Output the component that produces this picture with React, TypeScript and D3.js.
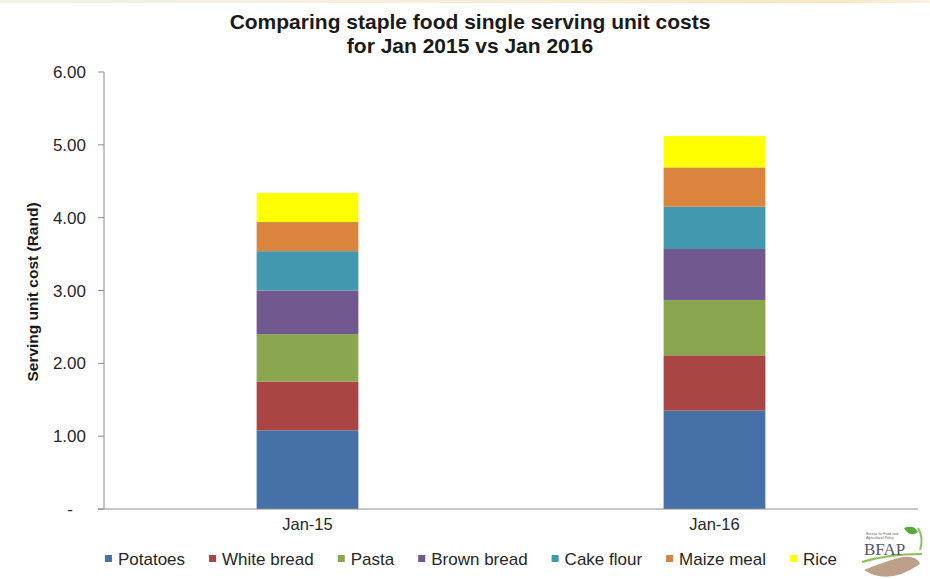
import React, { useEffect, useRef } from "react";
import * as d3 from "d3";

const categories = ["Jan-15", "Jan-16"];
const seriesNames = ["Potatoes", "White bread", "Pasta", "Brown bread", "Cake flour", "Maize meal", "Rice"];
const potatoes = [1.08, 1.35];
const whiteBread = [0.67, 0.76];
const pasta = [0.65, 0.76];
const brownBread = [0.6, 0.7];
const cakeFlour = [0.54, 0.58];
const maizeMeal = [0.4, 0.54];
const rice = [0.4, 0.43];
const seriesValues = [potatoes, whiteBread, pasta, brownBread, cakeFlour, maizeMeal, rice];
const seriesColors = ["#4571A8", "#A94643", "#8AA64E", "#71588F", "#4299AF", "#DB843D", "#FFFF00"];
const yTicks = [0, 1, 2, 3, 4, 5, 6];
const yTickLabels = ["-", "1.00", "2.00", "3.00", "4.00", "5.00", "6.00"];
const titleLines = ["Comparing staple food single serving unit costs", "for Jan 2015 vs Jan 2016"];
const yAxisTitle = "Serving unit cost (Rand)";

const W = 930;
const H = 579;
const FONT = "'Liberation Sans', Arial, Helvetica, sans-serif";

export default function App() {
  const ref = useRef<SVGSVGElement | null>(null);

  useEffect(() => {
    const svg = d3.select(ref.current);
    svg.selectAll("*").remove();

    const x = d3.scaleBand<string>().domain(categories).range([104, 918]).paddingInner(0.75).paddingOuter(0.375);
    const y = d3.scaleLinear().domain([0, 6]).range([509, 72]);

    // background
    svg.append("rect").attr("width", W).attr("height", H).attr("fill", "#ffffff");
    const defs = svg.append("defs");
    const grad = defs.append("linearGradient").attr("id", "topg").attr("x1", "0").attr("x2", "1");
    grad.append("stop").attr("offset", "0").attr("stop-color", "#f4f1ea");
    grad.append("stop").attr("offset", "0.5").attr("stop-color", "#f6eed8");
    grad.append("stop").attr("offset", "0.9").attr("stop-color", "#f9e6c2");
    grad.append("stop").attr("offset", "1").attr("stop-color", "#fbf2e3");
    svg.append("rect").attr("x", 0).attr("y", 0).attr("width", W).attr("height", 3).attr("fill", "url(#topg)");

    // title
    svg.append("text")
      .attr("x", 470).attr("y", 29)
      .attr("text-anchor", "middle")
      .attr("font-family", FONT).attr("font-weight", "bold").attr("font-size", 21)
      .attr("fill", "#1a1a1a")
      .selectAll("tspan").data(titleLines).join("tspan")
      .attr("x", 470).attr("dy", (_d, i) => (i === 0 ? 0 : 24))
      .text((d) => d);

    // stacked data
    const table = categories.map((c, i) => {
      const row: Record<string, any> = { cat: c };
      seriesNames.forEach((s, j) => (row[s] = seriesValues[j][i]));
      return row;
    });
    const stacked = d3.stack<any>().keys(seriesNames)(table);

    const g = svg.append("g");
    stacked.forEach((layer, j) => {
      g.selectAll(null).data(layer).join("rect")
        .attr("x", (d: any) => x(d.data.cat)!)
        .attr("width", x.bandwidth())
        .attr("y", (d: any) => y(d[1]))
        .attr("height", (d: any) => y(d[0]) - y(d[1]))
        .attr("fill", seriesColors[j]);
    });

    // axes
    const axisColor = "#8c8c8c";
    svg.append("line").attr("x1", 104).attr("x2", 104).attr("y1", y(6)).attr("y2", y(0))
      .attr("stroke", axisColor).attr("stroke-width", 1);
    svg.append("line").attr("x1", 98).attr("x2", 918).attr("y1", y(0)).attr("y2", y(0))
      .attr("stroke", axisColor).attr("stroke-width", 1);
    yTicks.forEach((t, i) => {
      svg.append("line").attr("x1", 98).attr("x2", 104).attr("y1", y(t)).attr("y2", y(t))
        .attr("stroke", axisColor).attr("stroke-width", 1);
      const lbl = yTickLabels[i];
      svg.append("text")
        .attr("x", lbl === "-" ? 73 : 86)
        .attr("y", y(t) + 6)
        .attr("text-anchor", "end")
        .attr("font-family", FONT).attr("font-size", 17).attr("fill", "#262626")
        .text(lbl);
    });

    // category labels
    categories.forEach((c) => {
      svg.append("text")
        .attr("x", x(c)! + x.bandwidth() / 2).attr("y", 530)
        .attr("text-anchor", "middle")
        .attr("font-family", FONT).attr("font-size", 16.5).attr("fill", "#262626")
        .text(c);
    });

    // y axis title
    svg.append("text")
      .attr("transform", "translate(38,292) rotate(-90)")
      .attr("text-anchor", "middle")
      .attr("font-family", FONT).attr("font-weight", "bold").attr("font-size", 15.5).attr("fill", "#1a1a1a")
      .text(yAxisTitle);

    // legend
    const lg = svg.append("g");
    let cursor = 0;
    const gap = 24;
    seriesNames.forEach((s, j) => {
      const it = lg.append("g");
      it.append("rect").attr("x", cursor).attr("y", 555).attr("width", 7).attr("height", 7).attr("fill", seriesColors[j]);
      const t = it.append("text").attr("x", cursor + 13).attr("y", 564.5)
        .attr("font-family", FONT).attr("font-size", 17).attr("fill", "#262626").text(s);
      const w = (t.node() as SVGTextElement).getComputedTextLength();
      cursor += 13 + w + gap;
    });
    const total = cursor - gap;
    lg.attr("transform", `translate(${471 - total / 2},0)`);

    // logo (approximation)
    const logo = svg.append("g").attr("transform", "translate(858,524)");
    logo.append("path").attr("d", "M6,46 Q30,62 62,40 Q58,30 40,34 Q20,40 6,46 Z").attr("fill", "#b08d74").attr("opacity", 0.85);
    logo.append("path").attr("d", "M4,38 Q30,30 64,30").attr("stroke", "#8dbf5a").attr("stroke-width", 2).attr("fill", "none");
    logo.append("path").attr("d", "M60,4 Q66,14 62,26").attr("stroke", "#8dbf5a").attr("stroke-width", 2).attr("fill", "none");
    logo.append("path").attr("d", "M46,4 Q56,0 60,8 Q52,14 46,4 Z").attr("fill", "#5aa83c");
    logo.append("text").attr("x", 8).attr("y", 11).attr("font-family", FONT).attr("font-size", 3.5).attr("fill", "#666")
      .text("Bureau for Food and");
    logo.append("text").attr("x", 8).attr("y", 15).attr("font-family", FONT).attr("font-size", 3.5).attr("fill", "#666")
      .text("Agricultural Policy");
    logo.append("text").attr("x", 6).attr("y", 31).attr("font-family", "'Liberation Serif', 'DejaVu Serif', serif")
      .attr("font-size", 17).attr("fill", "#55556a").text("BFAP");
  }, []);

  return (
    <svg
      ref={ref}
      width={W}
      height={H}
      style={{ position: "absolute", left: 0, top: 0, display: "block" }}
    />
  );
}
